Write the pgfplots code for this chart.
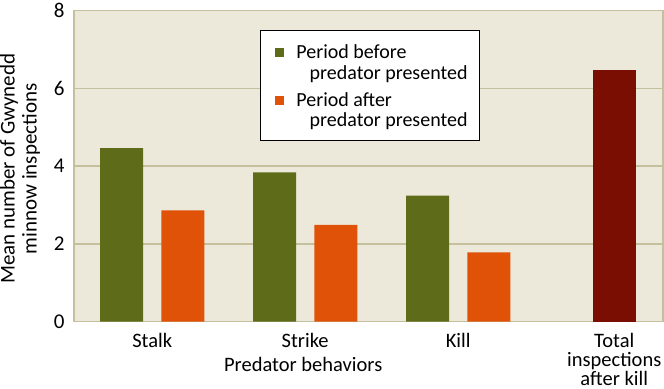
\documentclass[border=0pt]{standalone}
\usepackage{pgfplots}
\pgfplotsset{compat=1.18}
\usepackage{fontspec}
\setmainfont{Carlito}
\definecolor{bgc}{RGB}{237,233,218}
\definecolor{gridc}{RGB}{196,191,156}
\definecolor{cgreen}{RGB}{94,108,26}
\definecolor{corange}{RGB}{224,82,8}
\definecolor{cred}{RGB}{122,14,2}
\begin{document}
\begin{tikzpicture}[font=\fontsize{20}{24}\selectfont]
\begin{axis}[
  scale only axis, width=589pt, height=311pt,
  xmin=-0.51, xmax=3.34, ymin=0, ymax=8,
  ytick={0,2,4,6,8},
  ymajorgrids,
  grid style={color=gridc, line width=1.6pt},
  axis line style={draw=gridc, line width=1.6pt},
  axis background/.style={fill=bgc},
  xtick={0,1,2,3.02},
  xticklabels={Stalk,Strike,Kill,{Total\\inspections\\after kill}},
  major tick length=0pt,
  /pgf/number format/assume math mode=true,
  xticklabel style={anchor=north, yshift=-8.5pt, align=center, inner xsep=0pt, inner ysep=3pt, font=\fontsize{20.5}{19}\selectfont},
  yticklabel style={xshift=-6pt, font=\fontsize{21}{24}\selectfont},
  ylabel={Mean number of Gwynedd\\minnow inspections},
  every axis y label/.style={at={(axis cs:-0.51,3.93)}, xshift=-34pt, rotate=90, anchor=south, align=center, inner sep=0pt, font=\fontsize{21}{22}\selectfont},
  xlabel={Predator behaviors},
  every axis x label/.style={at={(axis cs:0.987,0)}, anchor=base, yshift=-50pt, font=\fontsize{20.5}{24}\selectfont},
]
\addplot[ybar, bar shift=0pt, bar width=0.281, fill=cgreen, draw=none] coordinates {(-0.2,4.46) (0.8,3.84) (1.8,3.24)};
\addplot[ybar, bar shift=0pt, bar width=0.281, fill=corange, draw=none] coordinates {(0.2,2.86) (1.2,2.49) (2.2,1.78)};
\addplot[ybar, bar shift=0pt, bar width=0.281, fill=cred, draw=none] coordinates {(3.02,6.47)};
\node[draw=black, fill=white, line width=0.8pt, anchor=north west, minimum width=219pt, minimum height=110pt, inner sep=0pt] at (axis cs:0.706,7.49) {};
\node[anchor=base west, inner sep=0pt] at (axis cs:0.804,6.773) {\textcolor{cgreen}{\rule[1.5pt]{9pt}{9pt}}\hspace{12pt}Period before};
\node[anchor=base west, inner sep=0pt] at (axis cs:1.028,6.236) {predator presented};
\node[anchor=base west, inner sep=0pt] at (axis cs:0.804,5.521) {\textcolor{corange}{\rule[1.5pt]{9pt}{9pt}}\hspace{12pt}Period after};
\node[anchor=base west, inner sep=0pt] at (axis cs:1.028,5.010) {predator presented};
\end{axis}
\end{tikzpicture}
\end{document}
